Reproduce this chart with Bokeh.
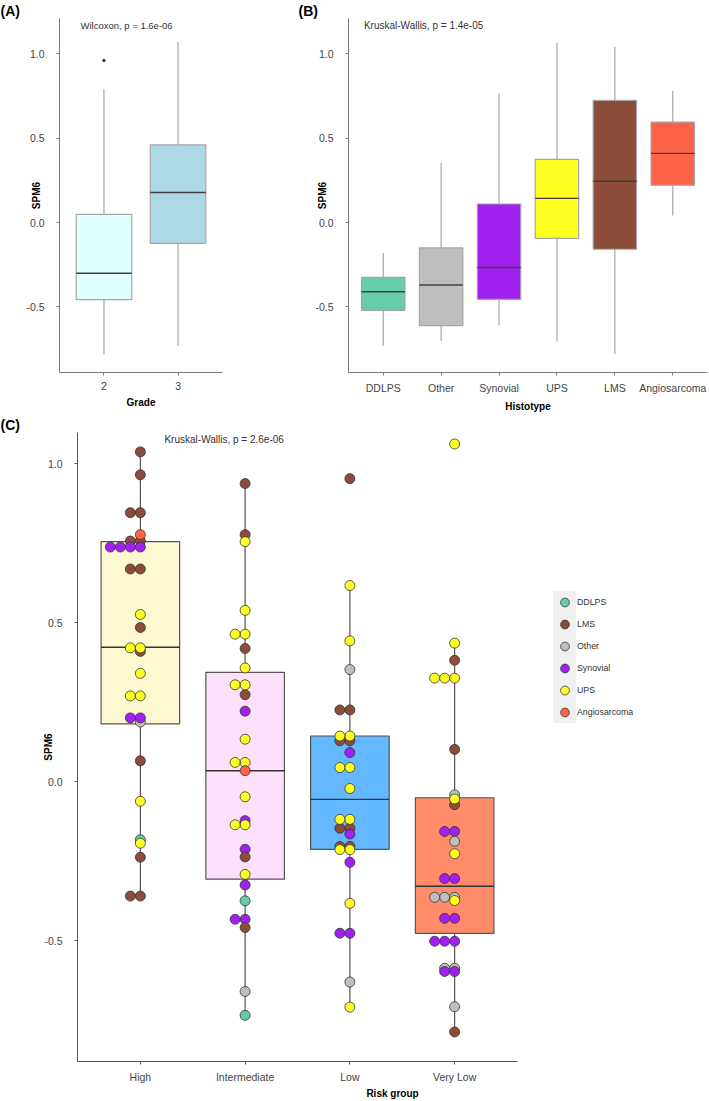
from bokeh.plotting import figure
from bokeh.models import (Range1d, FixedTicker, NumeralTickFormatter, Label, Title,
                          ColumnDataSource, Legend, LegendItem)
from bokeh.layouts import column, row
from bokeh.embed import file_html
from bokeh.resources import INLINE

FONT = "Liberation Sans"

# ---------------- Panel A data (Grade) ----------------
grades = ["2", "3"]
grade_q1 = [-0.456, -0.123]
grade_med = [-0.300, 0.178]
grade_q3 = [0.048, 0.460]
grade_lo = [-0.780, -0.730]
grade_hi = [0.790, 1.070]
grade_fill = ["#E0FFFF", "#ADD8E6"]
grade_outlier_grade = ["2"]
grade_outlier_val = [0.960]

# ---------------- Panel B data (Histotype) ----------------
histos = ["DDLPS", "Other", "Synovial", "UPS", "LMS", "Angiosarcoma"]
histo_q1 = [-0.520, -0.610, -0.455, -0.094, -0.158, 0.221]
histo_med = [-0.410, -0.370, -0.266, 0.143, 0.245, 0.410]
histo_q3 = [-0.325, -0.150, 0.110, 0.374, 0.724, 0.595]
histo_lo = [-0.730, -0.700, -0.607, -0.705, -0.778, 0.042]
histo_hi = [-0.180, 0.354, 0.765, 1.065, 1.039, 0.780]
histo_colors = {"DDLPS": "#66CDAA", "LMS": "#8B4C39", "Other": "#BEBEBE",
                "Synovial": "#A020F0", "UPS": "#FFFF22", "Angiosarcoma": "#FF6347"}
legend_order = ["DDLPS", "LMS", "Other", "Synovial", "UPS", "Angiosarcoma"]

# ---------------- Panel C data (Risk group) ----------------
risk_groups = ["High", "Intermediate", "Low", "Very Low"]
risk_q1 = [0.182, -0.306, -0.212, -0.476]
risk_med = [0.423, 0.035, -0.055, -0.328]
risk_q3 = [0.755, 0.344, 0.144, -0.050]
risk_lo = [-0.359, -0.734, -0.708, -0.786]
risk_hi = [1.037, 0.9375, 0.617, 0.436]
risk_fill = ["#FFF9D2", "#FDE0FA", "#63B8FF", "#FF8C69"]

high_vals = [1.037, 0.965, 0.846, 0.846, 0.757, 0.757, 0.777, 0.738, 0.738, 0.738, 0.738,
             0.669, 0.669, 0.526, 0.485, 0.410, 0.421, 0.421, 0.341, 0.270, 0.270,
             0.188, 0.201, 0.201, 0.066, -0.061, -0.182, -0.193, -0.237, -0.359, -0.359]
high_types = ["LMS", "LMS", "LMS", "LMS", "LMS", "LMS", "Angiosarcoma", "Synovial", "Synovial", "Synovial", "Synovial",
              "LMS", "LMS", "UPS", "LMS", "LMS", "UPS", "UPS", "UPS", "UPS", "UPS",
              "Other", "Synovial", "Synovial", "LMS", "UPS", "DDLPS", "UPS", "LMS", "LMS", "LMS"]

inter_vals = [0.9375, 0.777, 0.755, 0.539, 0.464, 0.464, 0.419, 0.358, 0.274, 0.305, 0.305,
              0.222, 0.134, 0.061, 0.061, 0.035, -0.047, -0.122, -0.135, -0.135, -0.212,
              -0.236, -0.291, -0.324, -0.374, -0.432, -0.432, -0.458, -0.659, -0.734]
inter_types = ["LMS", "LMS", "UPS", "UPS", "UPS", "UPS", "LMS", "UPS", "LMS", "UPS", "UPS",
               "Synovial", "UPS", "UPS", "UPS", "Angiosarcoma", "UPS", "Synovial", "UPS", "UPS", "Synovial",
               "LMS", "UPS", "Synovial", "DDLPS", "Synovial", "Synovial", "LMS", "Other", "DDLPS"]

low_vals = [0.953, 0.617, 0.443, 0.353, 0.226, 0.226, 0.129, 0.129, 0.144, 0.144, 0.092,
            0.045, 0.045, -0.021, -0.146, -0.146, -0.118, -0.118, -0.164, -0.203, -0.203,
            -0.213, -0.213, -0.253, -0.382, -0.476, -0.476, -0.629, -0.708]
low_types = ["LMS", "UPS", "UPS", "Other", "LMS", "LMS", "LMS", "LMS", "UPS", "UPS", "Synovial",
             "UPS", "UPS", "UPS", "LMS", "LMS", "UPS", "UPS", "Synovial", "LMS", "LMS",
             "UPS", "UPS", "Synovial", "UPS", "Synovial", "Synovial", "Other", "UPS"]

vlow_vals = [1.062, 0.436, 0.382, 0.326, 0.326, 0.326, 0.102, -0.041, -0.072, -0.054,
             -0.156, -0.156, -0.187, -0.226, -0.304, -0.304, -0.363, -0.363, -0.363, -0.373,
             -0.429, -0.429, -0.501, -0.501, -0.501, -0.586, -0.586, -0.596, -0.596, -0.707, -0.786]
vlow_types = ["UPS", "UPS", "LMS", "UPS", "UPS", "UPS", "LMS", "Other", "LMS", "UPS",
              "Synovial", "Synovial", "Other", "UPS", "Synovial", "Synovial", "Other", "Other", "Other", "UPS",
              "Synovial", "Synovial", "Synovial", "Synovial", "Synovial", "Other", "Other", "Synovial", "Synovial",
              "Other", "LMS"]

group_points = [(high_vals, high_types), (inter_vals, inter_types),
                (low_vals, low_types), (vlow_vals, vlow_types)]

TICK_COLOR = "#444444"


def style(p, axis_color, ylab_standoff):
    p.outline_line_color = None
    p.xgrid.grid_line_color = None
    p.ygrid.grid_line_color = None
    p.background_fill_color = "white"
    for ax in (p.xaxis[0], p.yaxis[0]):
        ax.axis_line_color = axis_color
        ax.major_tick_line_color = axis_color
        ax.minor_tick_line_color = None
        ax.major_tick_in = 0
        ax.major_tick_out = 3
        ax.major_label_text_font = FONT
        ax.major_label_text_font_size = "10.5px"
        ax.major_label_text_color = TICK_COLOR
        ax.axis_label_text_font = FONT
        ax.axis_label_text_font_size = "10px"
        ax.axis_label_text_font_style = "bold"
        ax.axis_label_text_color = "black"
    p.xaxis.major_label_standoff = 6
    p.xaxis.axis_label_standoff = 4
    p.yaxis.major_label_standoff = 12
    p.yaxis.axis_label_standoff = ylab_standoff
    p.yaxis.ticker = FixedTicker(ticks=[-0.5, 0.0, 0.5, 1.0])
    p.yaxis.formatter = NumeralTickFormatter(format="0.0")


def panel_title(p, text, offset):
    p.add_layout(Title(text=text, align="left", offset=offset, standoff=0,
                       text_font=FONT, text_font_size="14px", text_font_style="bold",
                       text_color="black"), "above")


def boxes(p, n, q1, med, q3, lo, hi, fills, line_col, wcol, medcol, lw=1.0):
    xs = list(range(1, n + 1))
    p.segment(x0=xs, y0=q3, x1=xs, y1=hi, line_color=wcol, line_width=lw)
    p.segment(x0=xs, y0=q1, x1=xs, y1=lo, line_color=wcol, line_width=lw)
    p.quad(left=[x - 0.375 for x in xs], right=[x + 0.375 for x in xs],
           bottom=q1, top=q3, fill_color=fills, line_color=line_col, line_width=lw)
    p.segment(x0=[x - 0.375 for x in xs], y0=med, x1=[x + 0.375 for x in xs], y1=med,
              line_color=medcol, line_width=1.4)
    return xs


TOP_H = 414
Y_TOP_AB = 1.2085
Y_BOT_AB = -0.888

# ---------------- Figure A ----------------
pa = figure(width=296, height=TOP_H, output_backend="svg", toolbar_location=None,
            x_range=Range1d(0.4, len(grades) + 0.6), y_range=Range1d(Y_BOT_AB, Y_TOP_AB),
            min_border_left=59, min_border_right=74, min_border_top=0, min_border_bottom=33)
style(pa, "#7a7a7a", -19)
panel_title(pa, "(A)", -59)
pa.xaxis.axis_label = "Grade"
pa.yaxis.axis_label = "SPM6"
pa.xaxis.ticker = FixedTicker(ticks=list(range(1, len(grades) + 1)))
pa.xaxis.major_label_overrides = {i + 1: g for i, g in enumerate(grades)}
boxes(pa, len(grades), grade_q1, grade_med, grade_q3, grade_lo, grade_hi, grade_fill,
      "#A6A6A6", "#A6A6A6", "#404040", lw=1.2)
pa.scatter(x=[grades.index(g) + 1 for g in grade_outlier_grade], y=grade_outlier_val,
           size=2.5, color="#333333")
pa.add_layout(Label(x=0.683, y=1.165, text="Wilcoxon, p = 1.6e-06", text_baseline="middle",
                    text_font=FONT, text_font_size="9.5px", text_color="#333333"))

# ---------------- Figure B ----------------
pb = figure(width=413, height=TOP_H, output_backend="svg", toolbar_location=None,
            x_range=Range1d(0.4, len(histos) + 0.6), y_range=Range1d(Y_BOT_AB, Y_TOP_AB),
            min_border_left=52, min_border_right=2, min_border_top=0, min_border_bottom=33)
style(pb, "#7a7a7a", -16)
panel_title(pb, "(B)", -50)
pb.xaxis.axis_label = "Histotype"
pb.yaxis.axis_label = "SPM6"
pb.xaxis.ticker = FixedTicker(ticks=list(range(1, len(histos) + 1)))
pb.xaxis.major_label_overrides = {i + 1: h for i, h in enumerate(histos)}
boxes(pb, len(histos), histo_q1, histo_med, histo_q3, histo_lo, histo_hi,
      [histo_colors[h] for h in histos], "#A6A6A6", "#A6A6A6", "#404040", lw=1.2)
pb.add_layout(Label(x=0.666, y=1.165, text="Kruskal-Wallis, p = 1.4e-05", text_baseline="middle",
                    text_font=FONT, text_font_size="10px", text_color="#333333"))

# ---------------- Figure C ----------------
# the frame extends to the right edge so the legend can sit inside it; the
# x axis line is bounded to the category span
C_W, C_H = 709, 1101 - TOP_H
C_LEFT, C_RIGHT = 77, 2
C_DATA_PX = 440.0                      # pixel span of the category range 0.4 .. n+0.6
n_risk = len(risk_groups)
px_per_unit = C_DATA_PX / (n_risk + 0.2)
c_x_end = 0.4 + (C_W - C_LEFT - C_RIGHT) / px_per_unit
pc = figure(width=C_W, height=C_H, output_backend="svg", toolbar_location=None,
            x_range=Range1d(0.4, c_x_end), y_range=Range1d(-0.879, 1.098),
            min_border_left=C_LEFT, min_border_right=C_RIGHT, min_border_top=0, min_border_bottom=38)
style(pc, "#555555", -13)
panel_title(pc, "(C)", -C_LEFT)
pc.xaxis.axis_label = "Risk group"
pc.yaxis.axis_label = "SPM6"
pc.xaxis.axis_label_standoff = 2
pc.xaxis.bounds = (0.4, n_risk + 0.6)
pc.xaxis.ticker = FixedTicker(ticks=list(range(1, n_risk + 1)))
pc.xaxis.major_label_overrides = {i + 1: g for i, g in enumerate(risk_groups)}
boxes(pc, n_risk, risk_q1, risk_med, risk_q3, risk_lo, risk_hi, risk_fill,
      "#555555", "#555555", "#333333", lw=1.2)

# dot-plot stacking (stacked to the left of the group centre)
DOT_PX = 10.0
step = DOT_PX / px_per_unit
xs, ys, cols, types = [], [], [], []
for gi, (vals, tps) in enumerate(group_points):
    seen = {}
    for v, t in zip(vals, tps):
        k = seen.get(v, 0)
        seen[v] = k + 1
        xs.append(gi + 1 - k * step)
        ys.append(v)
        cols.append(histo_colors[t])
        types.append(t)
src = ColumnDataSource(dict(x=xs, y=ys, color=cols, type=types))
r = pc.scatter(x="x", y="y", source=src, size=DOT_PX, fill_color="color",
               line_color="#333333", line_width=0.8)
r_inv = pc.scatter(x="x", y="y", source=src, size=1, fill_alpha=0, line_alpha=0)

pc.add_layout(Label(x=1.23, y=1.076, text="Kruskal-Wallis, p = 2.6e-06", text_baseline="middle",
                    text_font=FONT, text_font_size="10px", text_color="#333333"))

# legend: grey key strip + separate labels (both inside the frame)
items_keys = [LegendItem(label=" ", renderers=[r], index=types.index(t)) for t in legend_order]
items_lbl = [LegendItem(label=t, renderers=[r_inv], index=types.index(t)) for t in legend_order]
leg_keys = Legend(items=items_keys, location=(476, 338), padding=0, spacing=0,
                  glyph_width=23, glyph_height=22, label_width=0, label_height=22, label_standoff=0,
                  label_text_font_size="1px", background_fill_color="#F0F0F0", background_fill_alpha=1.0,
                  border_line_color=None, margin=0)
leg_lbl = Legend(items=items_lbl, location=(499, 338), padding=0, spacing=0,
                 glyph_width=1, glyph_height=22, label_height=22, label_standoff=0,
                 label_text_font=FONT, label_text_font_size="8.8px", label_text_color="#333333",
                 background_fill_alpha=0.0, border_line_color=None, margin=0)
pc.add_layout(leg_keys, "center")
pc.add_layout(leg_lbl, "center")

layout = column(row(pa, pb), pc)
open("out.html", "w").write(file_html(layout, INLINE))
